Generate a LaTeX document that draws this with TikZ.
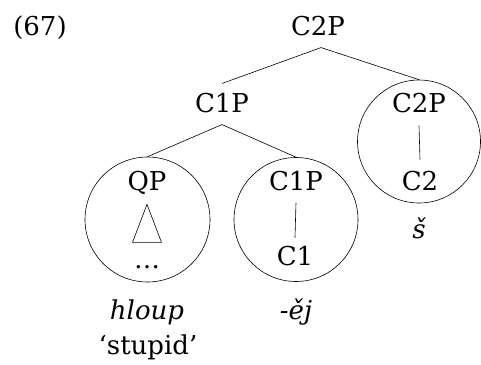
\documentclass[tikz,border=0pt]{standalone}
\usepackage{fontspec}
\setmainfont{DejaVu Serif}
\begin{document}
\begin{tikzpicture}[x=1pt,y=-1pt,
  lab/.style={anchor=base,inner sep=0pt,font=\fontsize{26}{30}\selectfont},
  ring/.style={draw,circle,inner sep=0pt,line width=0.6pt},
  edge/.style={line width=0.6pt}]
\useasboundingbox (0,0) rectangle (481,364);
% labels
\node[lab] (ex) at (40,35) {(67)};
\node[lab] (top) at (318,35) {C2P};
\node[lab] (c1p) at (222,112) {C1P};
\node[lab] (c2pr) at (419,112) {C2P};
\node[lab] (c2) at (420,190) {C2};
\node[lab] (qp) at (147,190) {QP};
\node[lab] (c1pm) at (296,190) {C1P};
\node[lab] (c1) at (295,265) {C1};
\node[lab] (dots) at (147,268) {…};
\node[lab] (sh) at (419,238) {\itshape š};
\node[lab] (hl) at (147,319) {\itshape hloup};
\node[lab] (gl) at (148,354) {‘stupid’};
\node[lab] (ej) at (296,319) {\itshape -ěj};
% circles
\node[ring,minimum size=125pt] (lc) at (147.5,219.5) {};
\node[ring,minimum size=124pt] (mc) at (296,219.5) {};
\node[ring,minimum size=123pt] (rc) at (419,141.5) {};
% edges
\draw[edge] ([xshift=3pt,yshift=-12pt]top.south) -- ([yshift=9pt]c1p.north);
\draw[edge] ([xshift=3pt,yshift=-12pt]top.south) -- (rc.north);
\draw[edge] ([yshift=-12pt]c1p.south) -- (lc.north);
\draw[edge] ([yshift=-12pt]c1p.south) -- (mc.north);
\draw[edge] ([yshift=-13pt]c2pr.south) -- ([yshift=11pt]c2.north);
\draw[edge] ([yshift=-12pt]c1pm.south) -- ([yshift=8pt]c1.north);
\draw[edge] ([yshift=-10pt]qp.south) -- ++(-14.5,38) -- ++(29,0) -- cycle;
\end{tikzpicture}
\end{document}
